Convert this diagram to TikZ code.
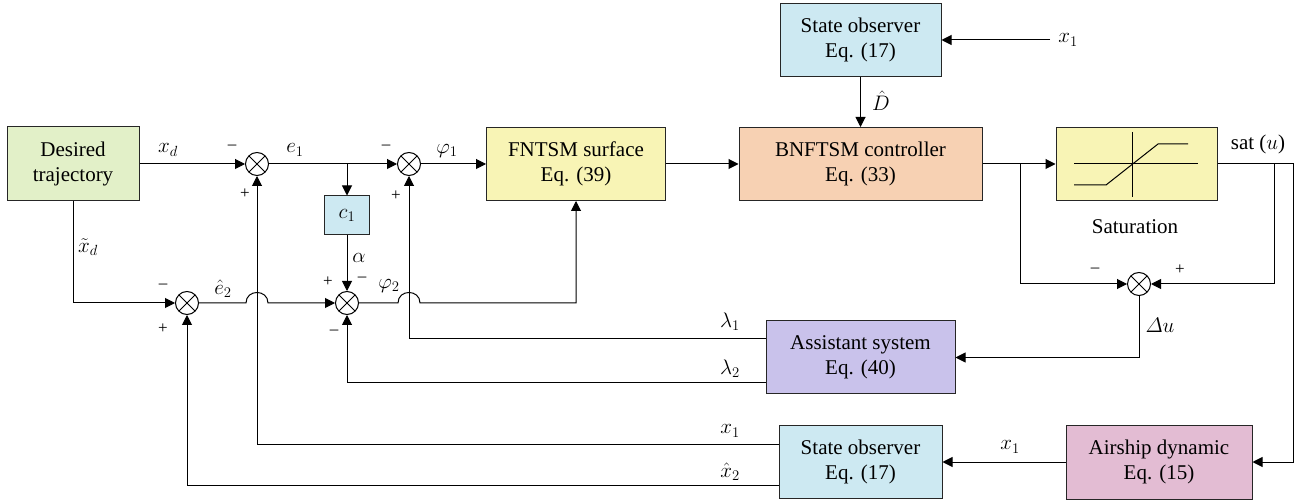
\RequirePackage{fix-cm}
\documentclass[tikz,border=0pt]{standalone}
\usepackage{amsmath}
\usepackage{fontspec}
\setmainfont{Liberation Serif}
\usetikzlibrary{arrows.meta}
\definecolor{cgreen}{HTML}{E2F0C8}
\definecolor{cyel}{HTML}{F8F4B5}
\definecolor{cpeach}{HTML}{F7D1B3}
\definecolor{cblue}{HTML}{CDE9F2}
\definecolor{cpurple}{HTML}{C9C2EB}
\definecolor{cpink}{HTML}{E3BCD3}
\tikzset{
  blk/.style={draw=black!85, line width=1pt, align=center, inner sep=0pt,
    font=\fontsize{21}{25}\selectfont},
  sumj/.style={circle, draw, minimum size=23pt, inner sep=0pt, line width=1pt,
    path picture={\draw[line width=1pt]
      (path picture bounding box.north west) -- (path picture bounding box.south east)
      (path picture bounding box.north east) -- (path picture bounding box.south west);}},
  con/.style={line width=1pt, -{Triangle[length=10pt,width=10pt]}},
  lbl/.style={font=\fontsize{21}{21}\selectfont, inner sep=0pt},
  sgn/.style={font=\fontsize{17}{17}\selectfont, inner sep=0pt},
}
\begin{document}
\begin{tikzpicture}[x=1pt,y=-1pt]
\useasboundingbox (0,0) rectangle (1309,502);
% blocks
\node[blk, fill=cgreen, minimum width=132pt, minimum height=74pt] (des) at (73,164) {Desired\\trajectory};
\node[blk, fill=cblue, minimum width=45pt, minimum height=39pt] (c1) at (347,215.5) {$c_1$};
\node[blk, fill=cyel, minimum width=179pt, minimum height=73pt] (fntsm) at (576,164) {FNTSM surface\\Eq. (39)};
\node[blk, fill=cpeach, minimum width=243pt, minimum height=73pt] (bnf) at (860.5,164) {BNFTSM controller\\Eq. (33)};
\node[blk, fill=cblue, minimum width=161pt, minimum height=73pt] (so1) at (860.5,40) {State observer\\Eq. (17)};
\node[blk, fill=cyel, minimum width=161pt, minimum height=73pt] (sat) at (1136.5,164) {};
\node[blk, fill=cpurple, minimum width=189pt, minimum height=73pt] (asst) at (860.5,357.5) {Assistant system\\Eq. (40)};
\node[blk, fill=cblue, minimum width=163pt, minimum height=73pt] (so2) at (860.5,462) {State observer\\Eq. (17)};
\node[blk, fill=cpink, minimum width=186pt, minimum height=74pt] (air) at (1159,462) {Airship dynamic\\Eq. (15)};
% saturation graphic
\begin{scope}[shift={(1132,164)}, line width=1pt]
  \draw (-58,0) -- (66,0);
  \draw (0,-32) -- (0,33);
  \draw (-58,21) -- (-26,21) -- (26,-20) -- (56,-20);
\end{scope}
% summing junctions
\node[sumj] (sum1) at (257,164) {};
\node[sumj] (sum2) at (409,164) {};
\node[sumj] (sum3) at (187,303) {};
\node[sumj] (sum4) at (347,303) {};
\node[sumj] (sum5) at (1139,284) {};
% helper coordinates
\coordinate (br1) at (347,164);
\coordinate (x1in) at (1050,40);
\coordinate (br2) at (1020,164);
\coordinate (br3) at (1274,164);
\coordinate (cor1) at (1293,164);
% connectors
\draw[con] (des.east) -- (sum1.west);
\draw[con] (sum1.east) -- (sum2.west);
\draw[con] (br1) -- (c1.north);
\draw[con] (sum2.east) -- (fntsm.west);
\draw[con] (fntsm.east) -- (bnf.west);
\draw[con] (so1.south) -- (bnf.north);
\draw[con] (x1in) -- (so1.east);
\draw[con] (bnf.east) -- (sat.west);
\draw[con] (br2) |- (sum5.west);
\draw[con] (sat.east) -- (cor1) |- (air.east);
\draw[con] (br3) |- (sum5.east);
\draw[con] (sum5.south) |- (asst.east);
\draw[con] ([yshift=19pt]asst.west) -| (sum2.south);
\draw[con] ([yshift=-25pt]asst.west) -| (sum4.south);
\draw[con] (air.west) -- (so2.east);
\draw[con] ([yshift=18pt]so2.west) -| (sum1.south);
\draw[con] ([yshift=-23pt]so2.west) -| (sum3.south);
\draw[con] (des.south) |- (sum3.west);
\draw[con] (sum3.east) -- (246,303) .. controls (246,289) and (268,289) .. (268,303) -- (sum4.west);
\draw[con] (c1.south) -- (sum4.north);
\draw[con] (sum4.east) -- (398,303) .. controls (398,289) and (420,289) .. (420,303) -- (576,303) -- (fntsm.south);
% labels
\node[lbl] (lxd) at (168,150) {$x_d$};
\node[lbl] (le1) at (295,150) {$e_1$};
\node[lbl] (lphi1) at (447,151) {$\varphi_1$};
\node[lbl] (lxtd) at (88,247) {$\tilde{x}_d$};
\node[lbl] (le2) at (223,289) {$\hat{e}_2$};
\node[lbl] (lalpha) at (359,258) {$\alpha$};
\node[lbl] (lphi2) at (389,286) {$\varphi_2$};
\node[lbl] (llam1) at (730,322) {$\lambda_1$};
\node[lbl] (llam2) at (730,369) {$\lambda_2$};
\node[lbl] (lx1b) at (730,431) {$x_1$};
\node[lbl] (lx2b) at (730,472) {$\hat{x}_2$};
\node[lbl] (lx1m) at (1010,447) {$x_1$};
\node[lbl] (ldu) at (1160,325) {$\varDelta u$};
\node[lbl] (lD) at (881,101) {$\hat{D}$};
\node[lbl] (lx1t) at (1068,40) {$x_1$};
\node[lbl] (lsat) at (1258,144) {sat ($u$)};
\node[lbl] (lsatn) at (1135,227) {Saturation};
% signs
\node[sgn] at (232,147) {–};
\node[sgn] at (245,194) {+};
\node[sgn] at (386,147) {–};
\node[sgn] at (396,196) {+};
\node[sgn] at (163,286) {–};
\node[sgn] at (163,329) {+};
\node[sgn] at (328,282) {+};
\node[sgn] at (362,279) {–};
\node[sgn] at (334,332) {–};
\node[sgn] at (1095,270) {–};
\node[sgn] at (1180,270) {+};
\end{tikzpicture}
\end{document}
